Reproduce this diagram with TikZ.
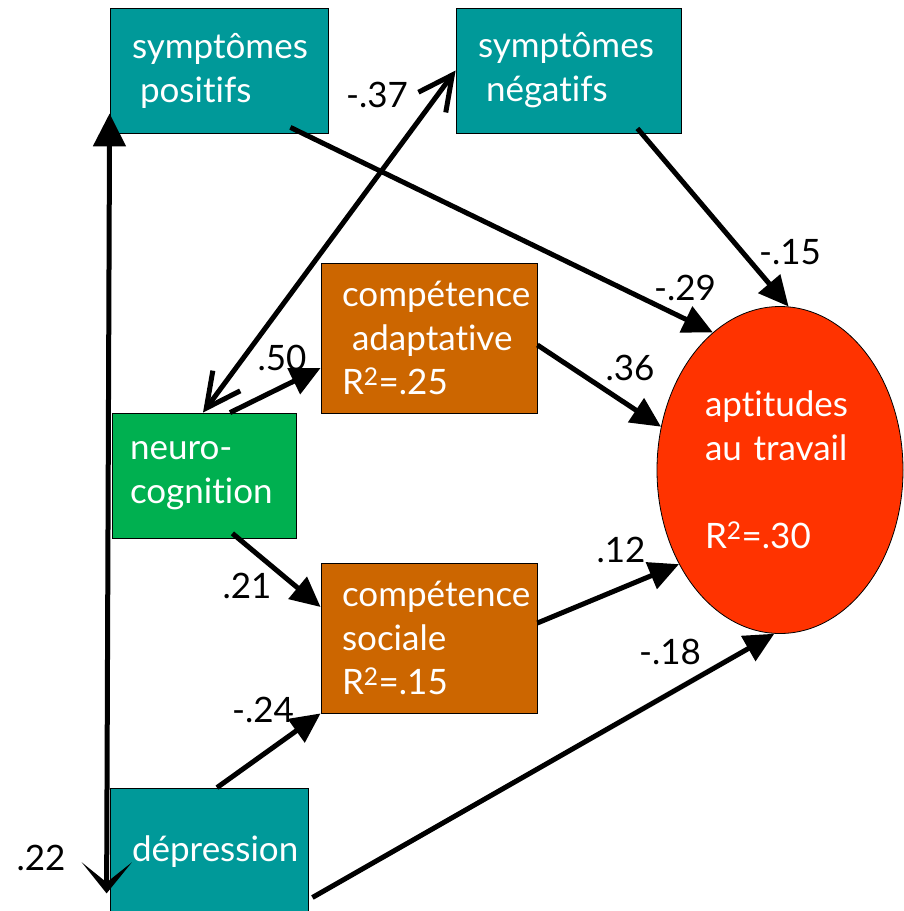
\documentclass[tikz,border=0pt]{standalone}
\usepackage{fontspec}
\setmainfont{Lato}[Ligatures={NoCommon,NoRequired}]
\usepackage{tikz}
\usetikzlibrary{shapes, arrows.meta, positioning}
\definecolor{symteal}{RGB}{0,153,153}
\definecolor{neurogreen}{RGB}{0,176,80}
\definecolor{compbrown}{RGB}{204,102,0}
\definecolor{aptred}{RGB}{255,51,0}
\hyphenpenalty=10000
\exhyphenpenalty=10000
\tikzstyle{block} = [draw, line width=0.8pt, rectangle, text=white,
    align=left, inner sep=0pt, font=\fontsize{35}{44}\selectfont]
\tikzstyle{factor} = [block, shape=ellipse, fill=aptred,
    minimum width=246pt, minimum height=327pt, text width=150pt]
\tikzstyle{coef} = [inner sep=0pt, font=\fontsize{35}{44}\selectfont]
\tikzstyle{link} = [->, line width=5pt]
\tikzstyle{corr} = [{Straight Barb[length=34pt,width=34pt]}-{Straight Barb[length=34pt,width=34pt]},
    line width=5pt]
\newcommand{\Rsq}[1]{R\textsuperscript{2}=#1}

\begin{document}
\begin{tikzpicture}[x=1pt, y=-1pt, >={Triangle[length=30pt,width=28pt]}]
    \useasboundingbox (0,0) rectangle (904,911);
    % predictors
    \node [block, fill=symteal, minimum width=218pt, minimum height=125pt, text width=174pt]
        (sp) at (219,70.5) {symptômes\\\hspace*{8pt}positifs};
    \node [block, fill=symteal, minimum width=225pt, minimum height=125pt, text width=181pt]
        (sn) at (568.5,70.5) {symptômes\\\hspace*{8pt}négatifs};
    \node [block, fill=neurogreen, minimum width=184pt, minimum height=125pt, text width=148pt]
        (nc) at (204,475.5) {neuro-\\cognition};
    \node [block, fill=symteal, minimum width=198pt, minimum height=127pt, text width=154pt]
        (dep) at (209,851.5) {dépression};
    % mediators
    \node [block, fill=compbrown, minimum width=216pt, minimum height=150pt, text width=174pt]
        (ca) at (429,338) {compétence\\\hspace*{10pt}adaptative\\\Rsq{.25}};
    \node [block, fill=compbrown, minimum width=216pt, minimum height=150pt, text width=174pt]
        (cs) at (429,638) {compétence\\sociale\\\Rsq{.15}};
    % outcome
    \node [factor] (at) at (780,470) {aptitudes\\au travail\\[44pt]\Rsq{.30}};

    % paths
    \draw [link] ([xshift=-38pt,yshift=6pt]sp.south east) -- (at.116);
    \draw [link] ([xshift=-44pt,yshift=5pt]sn.south east) -- (at.87);
    \draw [link] ([yshift=-7pt]ca.east) -- (at.160);
    \draw [link] ([yshift=15pt]cs.east) -- (at.-137);
    \draw [link] ([xshift=4pt,yshift=-46pt]dep.east) -- (at.-92);
    \draw [link] ([xshift=26pt]nc.north) -- ([yshift=-30pt]ca.west);
    \draw [link] ([xshift=-64pt,yshift=5pt]nc.south east) -- ([yshift=31pt]cs.west);
    \draw [link] ([xshift=8pt]dep.north) -- (cs.south west);
    \draw [corr] ([xshift=-1pt]nc.north) -- (sn.west);
    \draw [{Triangle[length=33pt,width=32pt]}-{Stealth[length=31pt,width=50pt,inset=20pt]}, line width=5pt]
        ([yshift=20pt]sp.south west) -- ([xshift=-3pt,yshift=22pt]dep.south west);

    % coefficients
    \node [coef] (c37) at (377,95) {-.37};
    \node [coef] (c29) at (685,288) {-.29};
    \node [coef] (c15) at (790,252) {-.15};
    \node [coef] (c36) at (630,368) {.36};
    \node [coef] (c50) at (282,358) {.50};
    \node [coef] (c21) at (247,586) {.21};
    \node [coef] (c24) at (263,710) {-.24};
    \node [coef] (c22) at (41,858) {.22};
    \node [coef] (c12) at (621,550) {.12};
    \node [coef] (c18) at (670,652) {-.18};
\end{tikzpicture}
\end{document}
